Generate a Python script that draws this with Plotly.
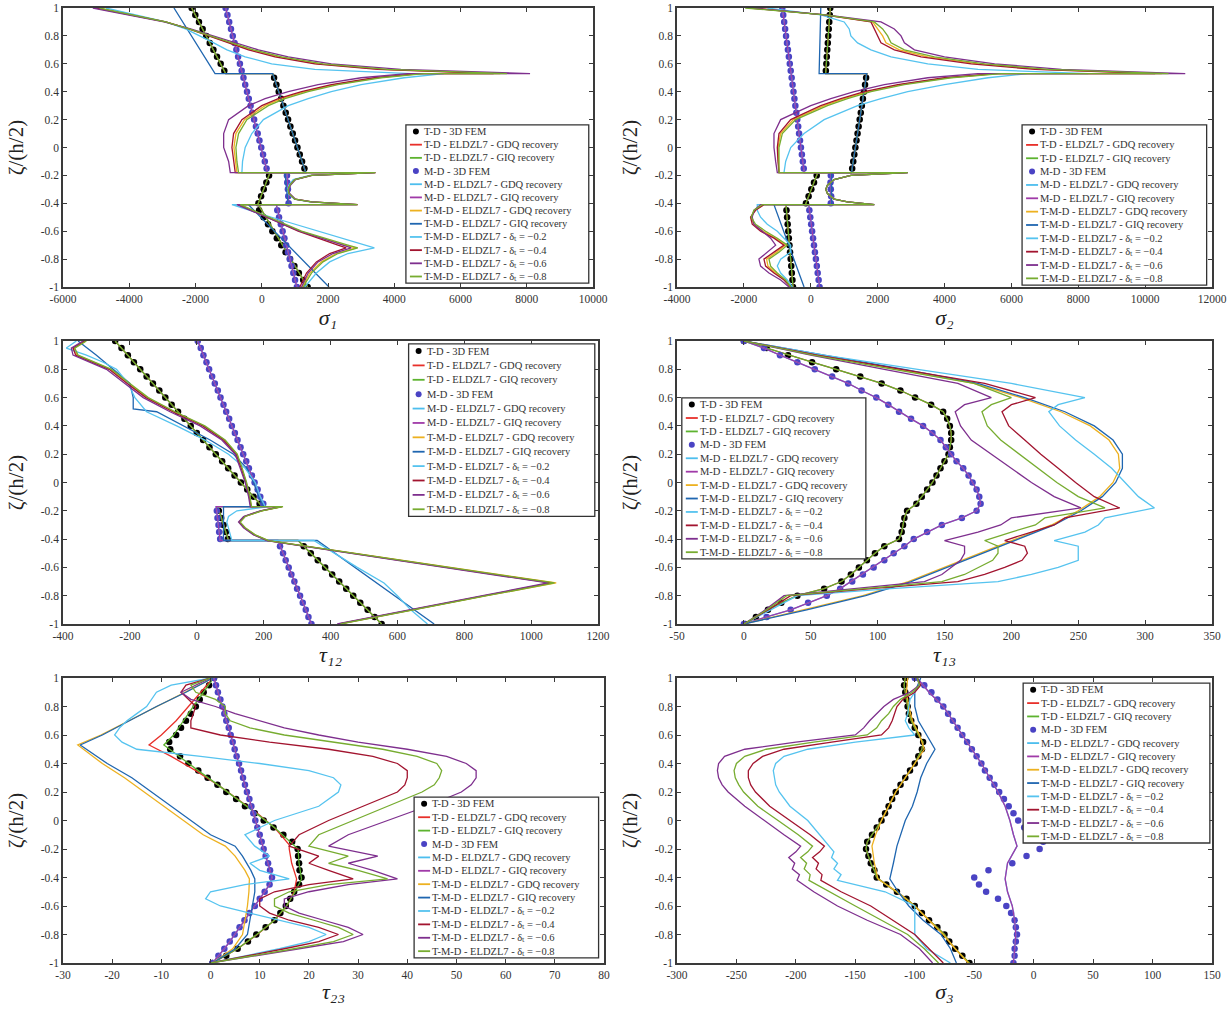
import plotly.graph_objects as go

# ---------------- shared sampling of the 3D FEM dots ----------------
DOT_Z = [1.0, 0.95, 0.9, 0.85, 0.8, 0.75, 0.7, 0.65, 0.6, 0.55, 0.5, 0.45, 0.4, 0.35, 0.3,
         0.25, 0.2, 0.15, 0.1, 0.05, 0.0, -0.05, -0.1, -0.15, -0.2, -0.25, -0.3, -0.35, -0.4,
         -0.45, -0.5, -0.55, -0.6, -0.65, -0.7, -0.75, -0.8, -0.85, -0.9, -0.95, -1.0]

# ---------------- Panel 1 : sigma_1 ----------------
P1_TD_FEM = [-2115, -2005, -1895, -1785, -1675, -1570, -1460, -1350, -1240, -1130,
             372, 443, 513, 584, 654, 724, 795, 865, 936, 1006, 1077, 1147, 1217, 1288,
             220, 140, 60, -20, -100,
             -80, 55, 190, 320, 455, 590, 720, 855, 985, 1120, 1250, 1385]
P1_MD_FEM = [-1090, -1036, -982, -929, -875, -821, -767, -714, -660, -606,
             -552, -499, -445, -391, -337, -284, -230, -176, -122, -69, -15, 39, 92, 146,
             760, 770, 790, 800, 810,
             469, 522, 576, 630, 684, 737, 791, 845, 899, 952, 1006, 1060]
P1_TD_Z = [1.0, 0.53, 0.53, -0.18, -0.18, -0.41, -0.41, -1.0]
P1_TD_LINE = [-2115, -1090, 330, 1330, 250, -120, -100, 1385]
P1_MD_Z = [1.0, -0.18, -0.18, -0.41, -0.41, -1.0]
P1_MD_LINE = [-1090, 170, 760, 810, 440, 1060]
P1_TMD_Z = [1.0, 0.53, 0.53, -0.18, -0.18, -0.41, -0.41, -1.0]
P1_TMD_GIQ = [-2650, -1410, 330, 1330, 700, 800, -400, 2030]
P1_Z = [1.0, 0.95, 0.9, 0.85, 0.8, 0.75, 0.7, 0.65, 0.6, 0.56, 0.53,
        0.53, 0.5, 0.45, 0.4, 0.35, 0.3, 0.2, 0.1, 0.0, -0.1, -0.18,
        -0.18, -0.2, -0.23, -0.27, -0.3, -0.33, -0.37, -0.39, -0.41,
        -0.41, -0.5, -0.6, -0.7, -0.72, -0.76, -0.82, -0.9, -1.0]
P1_TMD_GDQ = [-4950, -3900, -2900, -2200, -1580, -950, -330, 500, 1700, 3650, 7200,
              4800, 3500, 2200, 1300, 600, 100, -520, -780, -840, -800, -750,
              3430, 1500, 1000, 850, 800, 820, 1000, 1500, 2890,
              -680, 180, 1150, 2500, 2850, 2250, 1800, 1450, 1220]
P1_D02 = [-4700, -3800, -2900, -2300, -1850, -1450, -1050, -500, 300, 1600, 4500,
          5500, 4300, 3000, 2100, 1400, 800, 50, -300, -500, -580, -600,
          3400, 1450, 950, 820, 780, 800, 980, 1450, 2850,
          -900, 300, 1700, 3150, 3400, 2600, 2050, 1650, 1300]
P1_D04 = [-5000, -3900, -2900, -2200, -1600, -1000, -400, 400, 1600, 3500, 7000,
          4700, 3400, 2100, 1200, 500, 0, -600, -850, -900, -850, -800,
          3430, 1500, 1000, 850, 800, 820, 1000, 1500, 2890,
          -700, 150, 1100, 2300, 2550, 2050, 1650, 1350, 1150]
P1_D06 = [-5100, -4000, -2950, -2150, -1450, -800, -100, 800, 2100, 4200, 8100,
          4400, 3000, 1700, 800, 100, -400, -1000, -1150, -1150, -1000, -950,
          3430, 1520, 1020, 870, 820, 840, 1020, 1520, 2890,
          -750, 150, 1150, 2450, 2700, 2150, 1700, 1400, 1200]
P1_D08 = [-4900, -3900, -2900, -2200, -1550, -900, -250, 600, 1850, 3800, 7400,
          4900, 3600, 2300, 1400, 700, 200, -450, -700, -780, -750, -700,
          3430, 1500, 1000, 850, 800, 820, 1000, 1500, 2890,
          -650, 200, 1200, 2600, 2900, 2300, 1850, 1500, 1250]

# ---------------- Panel 2 : sigma_2 ----------------
P2_TD_FEM = [583, 568, 554, 539, 524, 510, 495, 480, 466, 451,
             1656, 1624, 1592, 1560, 1528, 1496, 1464, 1432, 1400, 1368, 1335, 1303, 1271, 1239,
             178, 97, 17, -64, -144,
             -726, -708, -690, -673, -655, -637, -619, -601, -583, -566, -548, -530]
P2_MD_FEM = [-850, -822, -794, -766, -739, -711, -683, -655, -627, -599,
             -571, -544, -516, -488, -460, -432, -404, -376, -349, -321, -293, -265, -237, -209,
             600, 590, 600, 610, 600,
             -42, -14, 13, 41, 69, 97, 125, 153, 181, 208, 236, 264]
P2_TD_Z = [1.0, 0.53, 0.53, -0.18, -0.18, -0.41, -0.41, -1.0]
P2_TD_LINE = [583, 445, 1675, 1220, 210, -160, -740, -530]
P2_MD_Z = [1.0, -0.18, -0.18, -0.41, -0.41, -1.0]
P2_MD_LINE = [-850, -195, 600, 600, -60, 264]
P2_TMD_Z = [1.0, 0.53, 0.53, -0.18, -0.18, -0.41, -0.41, -1.0]
P2_TMD_GIQ = [300, 250, 1675, 1220, 620, 620, -1100, -200]
P2_Z = [1.0, 0.95, 0.9, 0.85, 0.8, 0.75, 0.7, 0.65, 0.6, 0.56, 0.53,
        0.53, 0.5, 0.45, 0.4, 0.35, 0.3, 0.2, 0.1, 0.0, -0.1, -0.18,
        -0.18, -0.2, -0.23, -0.27, -0.3, -0.33, -0.37, -0.39, -0.41,
        -0.41, -0.45, -0.5, -0.55, -0.6, -0.65, -0.7, -0.75, -0.8, -0.85, -0.9, -0.95, -1.0]
P2_TMD_GDQ = [-1850, 410, 1850, 2000, 2150, 2250, 2650, 3500, 5000, 6900, 10500,
              5600, 4100, 2700, 1700, 1000, 400, -520, -900, -980, -970, -950,
              2900, 1200, 700, 500, 450, 500, 700, 1100, 1900,
              -1420, -1680, -1790, -1700, -1420, -1050, -750, -1020, -1320, -1280, -1050, -780, -600]
P2_D02 = [-1300, 300, 1000, 1150, 1200, 1400, 1800, 2400, 3500, 5000, 8300,
          6500, 5300, 4000, 2900, 2100, 1400, 400, -200, -600, -750, -800,
          2900, 1200, 700, 500, 450, 500, 700, 1100, 1900,
          -1600, -1600, -1500, -1300, -1000, -800, -600, -600, -900, -1000, -900, -700, -550]
P2_D04 = [-1700, 400, 1800, 1900, 2000, 2100, 2500, 3300, 4800, 6700, 10300,
          5500, 4000, 2600, 1600, 900, 300, -600, -950, -1000, -980, -950,
          2900, 1200, 700, 500, 450, 500, 700, 1100, 1900,
          -1400, -1650, -1800, -1750, -1500, -1100, -800, -1100, -1400, -1350, -1100, -800, -600]
P2_D06 = [-1800, 450, 2100, 2500, 2700, 2800, 3100, 4000, 5500, 7500, 11200,
          5000, 3500, 2200, 1300, 600, 0, -900, -1100, -1100, -1050, -1000,
          2900, 1200, 700, 500, 450, 500, 700, 1100, 1900,
          -1500, -1700, -1750, -1700, -1450, -1200, -1050, -1300, -1550, -1500, -1250, -900, -650]
P2_D08 = [-1960, 420, 1900, 2150, 2300, 2400, 2800, 3700, 5200, 7100, 10700,
          5700, 4200, 2800, 1800, 1100, 500, -450, -850, -950, -950, -950,
          2900, 1200, 700, 500, 450, 500, 700, 1100, 1900,
          -1450, -1700, -1780, -1650, -1350, -1000, -700, -950, -1250, -1200, -1000, -750, -600]

# ---------------- Panel 3 : tau_12 ----------------
P3_TD_FEM = [-244, -225, -206, -188, -169, -150, -131, -112, -94, -75,
             -56, -37, -18, 0, 19, 38, 57, 76, 94, 113, 132, 151, 170, 188,
             66, 73, 80, 87, 93,
             320, 341, 362, 384, 405, 426, 447, 468, 489, 511, 532, 553]
P3_MD_FEM = [3, 12, 20, 29, 37, 46, 54, 63, 71, 80,
             88, 97, 105, 114, 122, 131, 139, 148, 156, 165, 173, 182, 190, 199,
             60, 62, 65, 67, 70,
             249, 258, 266, 275, 283, 292, 300, 309, 317, 326, 334, 343]
P3_TD_Z = [1.0, -0.17, -0.17, -0.41, -0.41, -1.0]
P3_TD_LINE = [-244, 196, 63, 95, 303, 553]
P3_MD_Z = [1.0, -0.17, -0.17, -0.41, -0.41, -1.0]
P3_MD_LINE = [3, 202, 58, 70, 243, 343]
P3_TMD_Z = [1.0, 0.9, 0.8, 0.7, 0.6, 0.52, 0.5, 0.4, 0.3, 0.2, 0.1, 0.0, -0.1, -0.17,
            -0.17, -0.41, -0.41, -1.0]
P3_TMD_GIQ = [-355, -300, -250, -200, -190, -190, -120, -40, 40, 110, 150, 170, 185, 200,
              80, 80, 360, 710]
P3_Z = [1.0, 0.95, 0.9, 0.85, 0.8, 0.7, 0.6, 0.5, 0.4, 0.3, 0.2, 0.1, 0.0, -0.1, -0.17,
        -0.17, -0.2, -0.24, -0.28, -0.32, -0.37, -0.41,
        -0.41, -0.5, -0.6, -0.71, -0.8, -0.9, -1.0]
P3_TMD_GDQ = [-332, -367, -358, -308, -258, -204, -148, -68, 21, 83, 120, 135, 148, 158, 163,
              256, 194, 144, 129, 144, 174, 214,
              214, 468, 752, 1075, 866, 648, 428]
P3_D02 = [-360, -390, -330, -280, -240, -205, -185, -150, -60, 25, 95, 145, 175, 190, 205,
          215, 120, 95, 90, 95, 100, 105,
          350, 410, 480, 560, 600, 640, 690]
P3_D04 = [-335, -370, -362, -312, -262, -208, -152, -72, 18, 80, 118, 133, 147, 157, 162,
          255, 192, 142, 127, 142, 172, 212,
          212, 465, 748, 1060, 862, 645, 425]
P3_D06 = [-340, -375, -370, -320, -270, -215, -160, -80, 10, 75, 115, 130, 145, 155, 160,
          253, 190, 140, 125, 140, 170, 210,
          210, 460, 740, 1050, 855, 640, 420]
P3_D08 = [-330, -365, -355, -305, -255, -200, -145, -65, 24, 85, 121, 136, 149, 159, 164,
          258, 195, 145, 130, 145, 175, 215,
          215, 470, 755, 1070, 868, 650, 430]

# ---------------- Panel 4 : tau_13 ----------------
P4_TD_FEM = [0, 17, 33, 51, 69, 87, 103, 117, 128, 140, 149, 152, 154, 155, 155, 154, 153, 150,
             147, 144, 141, 137, 133, 129, 122, 120, 119, 118, 116, 105, 98, 92, 86, 80, 73, 60,
             40, 28, 18, 9, 1]
P4_MD_FEM = [0, 15, 27, 40, 53, 66, 78, 88, 99, 108, 116, 125, 134, 141, 147, 151, 155, 159,
             164, 168, 171, 174, 176, 177, 174, 163, 148, 137, 127, 120, 112, 105, 97, 89, 81,
             72, 62, 48, 35, 17, 0]
P4_TMD_Z = [1.0, 0.9, 0.8, 0.7, 0.6, 0.5, 0.4, 0.3, 0.2, 0.1, 0.0, -0.1, -0.2, -0.3, -0.4,
            -0.5, -0.6, -0.7, -0.8, -0.9, -1.0]
P4_TMD_GIQ = [0, 60, 120, 175, 210, 240, 262, 276, 283, 283, 278, 268, 252, 232, 205, 178,
              152, 125, 91, 47, 0]
P4_TMD_GDQ = [0, 58, 117, 172, 207, 237, 259, 273, 280, 281, 276, 266, 250, 230, 203, 176,
              150, 123, 89, 45, 0]
P4_Z = [1.0, 0.9, 0.8, 0.7, 0.6, 0.55, 0.5, 0.4, 0.3, 0.2, 0.1, 0.0, -0.1, -0.18, -0.25,
        -0.3, -0.35, -0.41, -0.45, -0.5, -0.55, -0.6, -0.65, -0.7, -0.75, -0.8, -0.9, -1.0]
P4_D02 = [0, 60, 130, 200, 255, 235, 228, 236, 248, 262, 275, 285, 295, 307, 270, 265, 255,
          232, 250, 250, 250, 235, 215, 190, 110, 40, 20, 0]
P4_D04 = [0, 55, 118, 180, 218, 200, 193, 198, 210, 222, 235, 248, 262, 281, 240, 232, 215,
          195, 210, 212, 208, 195, 180, 160, 95, 35, 18, 0]
P4_D06 = [0, 50, 105, 160, 185, 165, 158, 162, 170, 185, 200, 215, 232, 252, 200, 192, 175,
          150, 165, 165, 162, 155, 148, 135, 82, 30, 16, 0]
P4_D08 = [0, 52, 112, 172, 200, 185, 178, 182, 192, 206, 220, 234, 250, 270, 225, 218, 200,
          180, 190, 190, 186, 175, 165, 148, 90, 32, 17, 0]

# ---------------- Panel 5 : tau_23 ----------------
P5_TD_FEM = [0.7, -0.3, -1.4, -2.2, -3.0, -4.0, -5.0, -6.0, -7.0, -8.4, -8.2, -6.2, -4.5, -2.5,
             -0.6, 1.4, 3.2, 5.2, 7.0, 9.0, 10.8, 12.8, 14.8, 16.6, 17.7, 17.8, 18.0, 18.1,
             18.5, 18.0, 17.0, 16.2, 15.3, 14.2, 13.0, 11.2, 9.3, 7.6, 5.5, 3.2, 0.4]
P5_MD_FEM = [0.7, 1.1, 1.5, 2.0, 2.4, 2.8, 3.2, 3.7, 4.1, 4.5, 4.9, 5.3, 5.8, 6.2, 6.6, 7.0,
             7.4, 7.9, 8.3, 8.7, 9.1, 9.5, 10.0, 10.4, 10.8, 11.2, 11.7, 12.1, 12.5, 12.0,
             11.0, 10.0, 9.0, 7.9, 6.9, 5.9, 4.9, 3.9, 2.8, 1.6, 0.4]
P5_TDL_Z = [1.0, 0.9, 0.8, 0.7, 0.6, 0.53, 0.45, 0.35, 0.25, 0.15, 0.05, -0.05, -0.17, -0.2,
            -0.3, -0.41, -0.5, -0.6, -0.7, -0.8, -0.9, -1.0]
P5_TD_GDQ = [0.5, -2, -4.5, -7, -10, -12.5, -8, -3, 1.5, 5.5, 9.5, 13, 16, 16, 16.5, 17.5,
             17, 15.5, 13, 9.5, 5.5, 0.4]
P5_TD_GIQ = [0.6, -1.5, -3.5, -5.5, -7.5, -9.5, -6.5, -2.5, 1.5, 5.5, 9.3, 13, 17, 17.8, 18,
             18.5, 17.2, 15.4, 13, 9.4, 5.5, 0.4]
P5_TMD_Z = [1.0, 0.9, 0.8, 0.7, 0.6, 0.53, 0.4, 0.3, 0.2, 0.1, 0.0, -0.1, -0.18, -0.25, -0.35,
            -0.41, -0.5, -0.6, -0.7, -0.8, -0.9, -1.0]
P5_TMD_GIQ = [0.5, -5, -11, -16.5, -22, -26.5, -21, -16, -12, -8, -4, 0, 5, 6.5, 8.2, 9, 9,
              8.5, 8, 7.5, 5, 0.4]
P5_TMD_GDQ = [0.5, -5.2, -11.2, -16.8, -22.3, -27, -22, -17.5, -13.5, -9.5, -5.5, -1.5, 3, 5,
              7, 7.9, 7.8, 7.5, 7, 6.5, 4.5, 0.4]
P5_Z = [1.0, 0.95, 0.9, 0.85, 0.8, 0.75, 0.7, 0.65, 0.6, 0.55, 0.5, 0.45, 0.4, 0.35, 0.3,
        0.25, 0.2, 0.1, 0.0, -0.1, -0.18, -0.25, -0.3, -0.35, -0.41, -0.45, -0.5, -0.55,
        -0.6, -0.65, -0.7, -0.75, -0.8, -0.85, -0.9, -1.0]
P5_D02 = [0, -8, -11, -12, -13, -15, -17, -18.5, -19.5, -18, -15, -2, 10, 20, 25, 26.5, 26,
          22, 13, 7, 9, 12, 8, 10, 16, 7, 0, -1, 2, 8, 14, 20, 23.5, 20, 14, 0]
P5_D04 = [0, -5, -6, -4.5, -3, -3.5, -4, -4, 2, 12, 24, 33, 38, 40, 40, 39.5, 38, 31, 24, 18,
          16, 22, 20, 24, 29, 20, 13, 10, 10, 12, 16, 22, 26, 22, 15, 0]
P5_D06 = [0, -3, -6, -4, 1, 5, 10, 15, 22, 30, 40, 48, 52, 54, 54, 53, 51, 44, 36, 28, 24, 34,
          28, 33, 38, 28, 20, 15, 15, 18, 23, 28, 31, 27, 18, 0]
P5_D08 = [0, -4, -3, 1, 3, 3, 4, 8, 15, 25, 35, 42, 46, 47, 46.5, 45.5, 43, 36, 29, 22, 20,
          28, 24, 30, 36, 24, 16, 13, 13, 16, 21, 26, 29, 25, 17, 0]

# ---------------- Panel 6 : sigma_3 ----------------
P6_TD_FEM = [-108, -109, -108, -107, -106, -105, -103, -100, -97, -93,
             -94, -97, -100, -104, -108, -112, -116, -119, -122, -125,
             -128, -132, -136, -140, -141, -139, -137, -134, -132, -124,
             -115, -107, -100, -94, -88, -81, -75, -71, -66, -60, -54]
P6_MD_FEM = [-100, -92, -86, -81, -76, -72, -68, -64, -60, -56,
             -52, -48, -44, -41, -37, -33, -29, -25, -21, -17,
             -13, -8, 0, 8, 5, -6, -18, -38, -50, -46,
             -40, -30, -23, -19, -16, -15, -14, -15, -16, -16, -17]
P6_LZ = [1.0, 0.9, 0.8, 0.7, 0.6, 0.5, 0.4, 0.3, 0.2, 0.1, 0.0, -0.1, -0.18, -0.3, -0.41,
         -0.5, -0.6, -0.7, -0.8, -0.9, -1.0]
P6_MD_LINE = [-98, -88, -76, -68, -60, -52, -44, -37, -30, -24, -20, -17, -14, -22, -24,
              -22, -18, -16, -15, -16, -17]
P6_TMD_GIQ = [-95, -100, -100, -97, -90, -83, -90, -95, -98, -102, -108, -112, -115, -118,
              -121, -114, -105, -93, -78, -70, -65]
P6_TMD_GDQ = [-106, -107, -105, -102, -96, -92, -100, -108, -116, -122, -128, -133, -136,
              -134, -131, -115, -100, -88, -76, -66, -55]
P6_Z = [1.0, 0.95, 0.9, 0.85, 0.8, 0.75, 0.7, 0.65, 0.6, 0.55, 0.5, 0.45, 0.4, 0.35, 0.3,
        0.25, 0.2, 0.1, 0.0, -0.1, -0.18, -0.22, -0.26, -0.3, -0.34, -0.38, -0.42, -0.5,
        -0.6, -0.7, -0.8, -0.9, -1.0]
P6_D02 = [-98, -96, -100, -104, -105, -106, -108, -105, -100, -150, -190, -210, -217, -219,
          -218, -217, -214, -205, -190, -180, -172, -168, -170, -165, -168, -162, -165, -125,
          -100, -100, -100, -90, -70]
P6_D04 = [-98, -95, -100, -110, -115, -117, -119, -122, -128, -170, -210, -228, -236, -240,
          -240, -238, -234, -222, -205, -188, -176, -180, -186, -181, -183, -178, -179, -162,
          -137, -118, -100, -88, -76]
P6_D06 = [-98, -96, -104, -118, -126, -132, -138, -143, -150, -200, -243, -260, -265, -266,
          -265, -262, -257, -243, -227, -210, -196, -200, -206, -201, -203, -197, -199, -185,
          -165, -140, -112, -96, -85]
P6_D08 = [-98, -96, -102, -112, -118, -122, -128, -132, -140, -185, -225, -243, -250, -252,
          -251, -248, -244, -232, -215, -198, -186, -190, -196, -191, -193, -188, -189, -172,
          -150, -128, -106, -92, -80]

# ---------------- axes / labels ----------------
X_RANGES = [[-6000, 10000], [-4000, 12000], [-400, 1200], [-50, 350], [-30, 80], [-300, 150]]
X_TICKS = [list(range(-6000, 10001, 2000)), list(range(-4000, 12001, 2000)),
           list(range(-400, 1201, 200)), list(range(-50, 351, 50)),
           list(range(-30, 81, 10)), list(range(-300, 151, 50))]
X_TITLES = ["σ₁", "σ₂", "τ₁₂", "τ₁₃", "τ₂₃", "σ₃"]
Y_TITLE = "ζ/(h/2)"
Y_TICKS = [-1, -0.8, -0.6, -0.4, -0.2, 0, 0.2, 0.4, 0.6, 0.8, 1]
Y_TICKTEXT = ["-1", "-0.8", "-0.6", "-0.4", "-0.2", "0", "0.2", "0.4", "0.6", "0.8", "1"]

LEGEND_LABELS = ["T-D - 3D FEM", "T-D - ELDZL7 - GDQ recovery", "T-D - ELDZL7 - GIQ recovery",
                 "M-D - 3D FEM", "M-D - ELDZL7 - GDQ recovery", "M-D - ELDZL7 - GIQ recovery",
                 "T-M-D - ELDZL7 - GDQ recovery", "T-M-D - ELDZL7 - GIQ recovery",
                 "T-M-D - ELDZL7 - δₜ = −0.2", "T-M-D - ELDZL7 - δₜ = −0.4",
                 "T-M-D - ELDZL7 - δₜ = −0.6", "T-M-D - ELDZL7 - δₜ = −0.8"]
COLORS = ["#000000", "#e8302a", "#5db32f", "#4a43c4", "#4dbeee", "#a03aa8",
          "#edb120", "#1f66b0", "#55c3ef", "#a2142f", "#7e2f8e", "#77ac30"]
KINDS = ["dot", "line", "line", "dot", "line", "line", "line", "line", "line", "line", "line", "line"]

# pixel layout of the six plot boxes (left, right, top, bottom)
W_FIG, H_FIG = 1230, 1012
BOXES = [(63, 593, 8, 287), (677, 1212, 8, 287), (63, 598, 341, 624),
         (677, 1212, 341, 624), (63, 604, 678, 963), (677, 1212, 678, 963)]
LEGEND_BOXES = [(0.647, 0.014, 0.992, 0.581), (0.645, 0.007, 0.990, 0.581),
                (0.646, 0.380, 0.994, 0.990), (0.009, 0.230, 0.353, 0.799),
                (0.649, 0.018, 0.990, 0.582), (0.647, 0.421, 0.996, 0.982)]

SERIES = [
    [(P1_TD_FEM, DOT_Z), (P1_TD_LINE, P1_TD_Z), (P1_TD_LINE, P1_TD_Z), (P1_MD_FEM, DOT_Z),
     (P1_MD_LINE, P1_MD_Z), (P1_MD_LINE, P1_MD_Z), (P1_TMD_GDQ, P1_Z), (P1_TMD_GIQ, P1_TMD_Z),
     (P1_D02, P1_Z), (P1_D04, P1_Z), (P1_D06, P1_Z), (P1_D08, P1_Z)],
    [(P2_TD_FEM, DOT_Z), (P2_TD_LINE, P2_TD_Z), (P2_TD_LINE, P2_TD_Z), (P2_MD_FEM, DOT_Z),
     (P2_MD_LINE, P2_MD_Z), (P2_MD_LINE, P2_MD_Z), (P2_TMD_GDQ, P2_Z), (P2_TMD_GIQ, P2_TMD_Z),
     (P2_D02, P2_Z), (P2_D04, P2_Z), (P2_D06, P2_Z), (P2_D08, P2_Z)],
    [(P3_TD_FEM, DOT_Z), (P3_TD_LINE, P3_TD_Z), (P3_TD_LINE, P3_TD_Z), (P3_MD_FEM, DOT_Z),
     (P3_MD_LINE, P3_MD_Z), (P3_MD_LINE, P3_MD_Z), (P3_TMD_GDQ, P3_Z), (P3_TMD_GIQ, P3_TMD_Z),
     (P3_D02, P3_Z), (P3_D04, P3_Z), (P3_D06, P3_Z), (P3_D08, P3_Z)],
    [(P4_TD_FEM, DOT_Z), (P4_TD_FEM, DOT_Z), (P4_TD_FEM, DOT_Z), (P4_MD_FEM, DOT_Z),
     (P4_MD_FEM, DOT_Z), (P4_MD_FEM, DOT_Z), (P4_TMD_GDQ, P4_TMD_Z), (P4_TMD_GIQ, P4_TMD_Z),
     (P4_D02, P4_Z), (P4_D04, P4_Z), (P4_D06, P4_Z), (P4_D08, P4_Z)],
    [(P5_TD_FEM, DOT_Z), (P5_TD_GDQ, P5_TDL_Z), (P5_TD_GIQ, P5_TDL_Z), (P5_MD_FEM, DOT_Z),
     (P5_MD_FEM, DOT_Z), (P5_MD_FEM, DOT_Z), (P5_TMD_GDQ, P5_TMD_Z), (P5_TMD_GIQ, P5_TMD_Z),
     (P5_D02, P5_Z), (P5_D04, P5_Z), (P5_D06, P5_Z), (P5_D08, P5_Z)],
    [(P6_TD_FEM, DOT_Z), (P6_TD_FEM, DOT_Z), (P6_TD_FEM, DOT_Z), (P6_MD_FEM, DOT_Z),
     (P6_MD_LINE, P6_LZ), (P6_MD_LINE, P6_LZ), (P6_TMD_GDQ, P6_LZ), (P6_TMD_GIQ, P6_LZ),
     (P6_D02, P6_Z), (P6_D04, P6_Z), (P6_D06, P6_Z), (P6_D08, P6_Z)],
]

FONT = "Liberation Serif"
AXIS_COLOR = "#3a3a3a"

fig = go.Figure()
layout = dict(width=W_FIG, height=H_FIG, margin=dict(l=0, r=0, t=0, b=0),
              paper_bgcolor="white", plot_bgcolor="white", showlegend=False,
              font=dict(family=FONT, color="#222"))

for k in range(6):
    idx = "" if k == 0 else str(k + 1)
    left, right, top, bottom = BOXES[k]
    for j, (xv, zv) in enumerate(SERIES[k]):
        if KINDS[j] == "dot":
            fig.add_trace(go.Scatter(x=xv, y=zv, mode="markers", xaxis="x" + idx, yaxis="y" + idx,
                                     marker=dict(size=6.5, color=COLORS[j]), name=LEGEND_LABELS[j]))
        else:
            fig.add_trace(go.Scatter(x=xv, y=zv, mode="lines", xaxis="x" + idx, yaxis="y" + idx,
                                     line=dict(color=COLORS[j], width=1.3), name=LEGEND_LABELS[j]))
    common = dict(showline=True, mirror="ticks", linecolor=AXIS_COLOR, linewidth=1.5,
                  ticks="inside", ticklen=4, tickcolor=AXIS_COLOR, showgrid=False,
                  zeroline=False, automargin=False,
                  tickfont=dict(family=FONT, size=11.5, color="#333"))
    layout["xaxis" + idx] = dict(domain=[left / W_FIG, right / W_FIG], range=X_RANGES[k],
                                 tickvals=X_TICKS[k], ticktext=[str(v) for v in X_TICKS[k]],
                                 anchor="y" + idx,
                                 title=dict(text=X_TITLES[k],
                                            font=dict(family=FONT, size=22, style="italic"),
                                            standoff=4), **common)
    layout["yaxis" + idx] = dict(domain=[1 - bottom / H_FIG, 1 - top / H_FIG], range=[-1, 1],
                                 tickvals=Y_TICKS, ticktext=Y_TICKTEXT, anchor="x" + idx,
                                 title=dict(text=Y_TITLE, font=dict(family=FONT, size=21),
                                            standoff=11), **common)

fig.update_layout(**layout)

# compact legends drawn inside each panel (box, symbol, text)
for k in range(6):
    idx = "" if k == 0 else str(k + 1)
    xr, yr = "x" + idx + " domain", "y" + idx + " domain"
    left, right, top, bottom = BOXES[k]
    W, H = right - left, bottom - top
    x0, y0, x1, y1 = LEGEND_BOXES[k]
    fig.add_shape(type="rect", xref=xr, yref=yr, x0=x0, y0=y0, x1=x1, y1=y1,
                  fillcolor="white", line=dict(color="#333", width=1.3), layer="above")
    dy = (y1 - y0) / len(LEGEND_LABELS)
    for j, label in enumerate(LEGEND_LABELS):
        yc = y1 - (j + 0.5) * dy
        if KINDS[j] == "dot":
            cx = x0 + 10 / W
            fig.add_shape(type="circle", xref=xr, yref=yr, x0=cx - 3 / W, x1=cx + 3 / W,
                          y0=yc - 3 / H, y1=yc + 3 / H, fillcolor=COLORS[j],
                          line=dict(color=COLORS[j], width=0), layer="above")
        else:
            fig.add_shape(type="line", xref=xr, yref=yr, x0=x0 + 4 / W, x1=x0 + 16 / W,
                          y0=yc, y1=yc, line=dict(color=COLORS[j], width=1.8), layer="above")
        fig.add_annotation(xref=xr, yref=yr, x=x0 + 17 / W, y=yc, text=label, showarrow=False,
                           xanchor="left", yanchor="middle", borderpad=0,
                           font=dict(family=FONT, size=10.5, color="#333"))

fig.write_html("out.html", config={"displayModeBar": False},
               post_script="document.body.style.margin='0px';")
